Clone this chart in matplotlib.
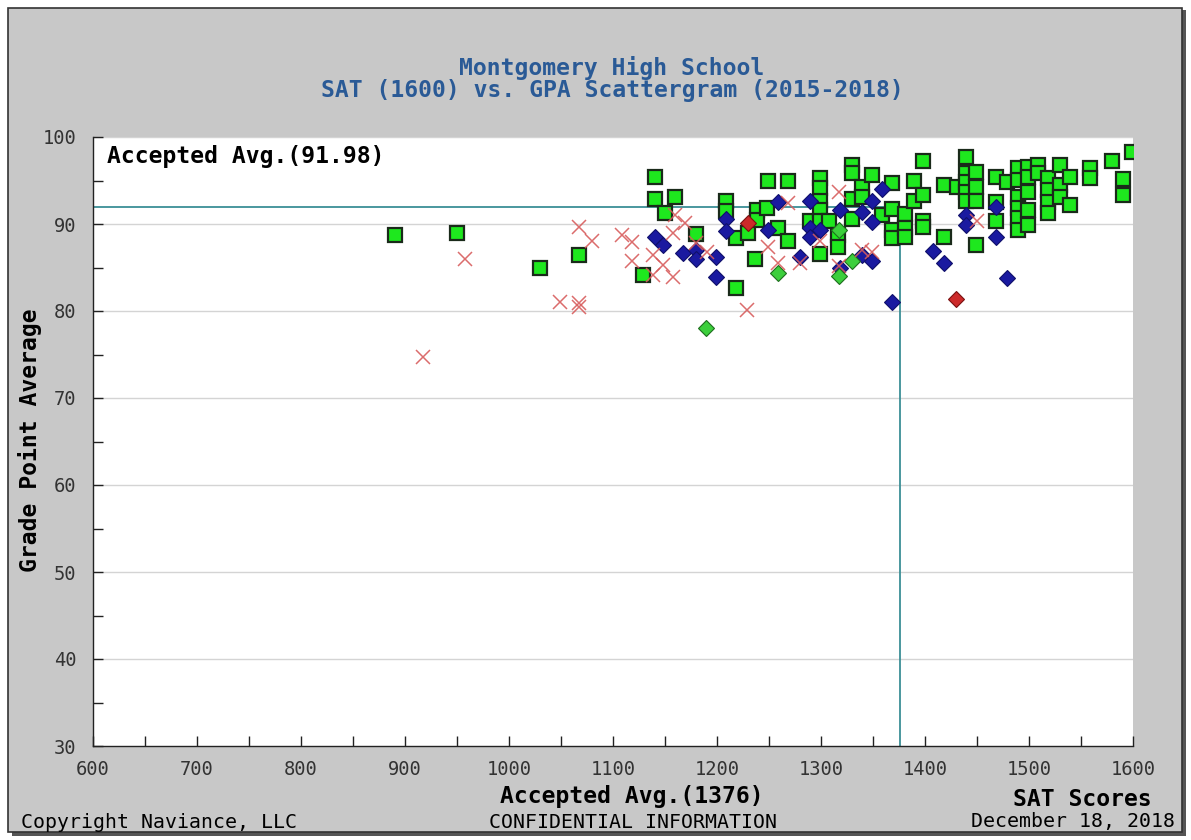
import numpy as np
import matplotlib
matplotlib.use("Agg")
import matplotlib.pyplot as plt
from matplotlib.patches import Rectangle
from matplotlib.ticker import MultipleLocator

# accepted (green squares)
acc_sat = [890, 950, 1030, 1067, 1129, 1140, 1140, 1150, 1160, 1180, 1209, 1209, 1218, 1218,
           1230, 1238, 1238, 1237, 1249, 1248, 1259, 1268, 1268, 1289, 1299, 1299, 1299, 1299,
           1299, 1299, 1308, 1316, 1316, 1330, 1330, 1330, 1330, 1339, 1339, 1349, 1359, 1368,
           1368, 1368, 1368, 1381, 1381, 1381, 1389, 1389, 1398, 1398, 1398, 1398, 1418, 1418,
           1431, 1439, 1439, 1439, 1439, 1439, 1449, 1449, 1449, 1449, 1468, 1468, 1468, 1479,
           1489, 1489, 1489, 1489, 1489, 1489, 1499, 1499, 1499, 1499, 1499, 1509, 1509, 1518,
           1518, 1518, 1518, 1530, 1530, 1530, 1539, 1539, 1559, 1559, 1580, 1590, 1590, 1599]
acc_gpa = [88.7, 89.0, 85.0, 86.4, 84.1, 95.4, 92.9, 91.3, 93.1, 88.8, 92.6, 91.5, 88.4, 82.7,
           89.0, 91.6, 90.5, 86.0, 94.9, 91.8, 89.5, 94.9, 88.1, 90.4, 95.3, 94.1, 92.6, 91.6,
           90.4, 86.6, 90.4, 88.7, 87.3, 96.8, 95.9, 92.9, 90.6, 94.2, 93.1, 95.6, 91.0, 94.7,
           91.7, 89.3, 88.4, 91.2, 89.5, 88.5, 94.9, 92.6, 97.2, 93.3, 90.4, 89.6, 94.5, 88.5,
           94.2, 97.7, 95.9, 94.8, 93.7, 92.7, 96.0, 94.2, 92.7, 87.6, 95.4, 92.5, 90.4, 94.8,
           96.4, 95.1, 93.1, 91.8, 90.7, 89.3, 96.5, 95.4, 93.7, 91.6, 89.9, 96.8, 95.9, 95.3,
           93.9, 92.5, 91.3, 96.8, 94.5, 93.1, 95.4, 92.2, 96.4, 95.3, 97.2, 95.2, 93.3, 98.3]

# blue diamonds
blue_sat = [1140, 1148, 1167, 1180, 1180, 1199, 1199, 1209, 1209, 1249, 1259, 1280, 1289, 1289,
            1289, 1299, 1318, 1318, 1339, 1339, 1349, 1349, 1349, 1359, 1368, 1408, 1418, 1439,
            1439, 1468, 1468, 1479]
blue_gpa = [88.5, 87.6, 86.7, 87.0, 86.0, 86.2, 83.9, 90.6, 89.2, 89.3, 92.5, 86.2, 92.7, 89.5,
            88.5, 89.3, 91.6, 84.9, 91.4, 86.4, 92.6, 90.2, 85.8, 94.0, 81.0, 86.9, 85.5, 91.0,
            89.9, 91.9, 88.5, 83.8]

# green diamonds
gdia_sat = [1189, 1259, 1317, 1330, 1317]
gdia_gpa = [78.1, 84.4, 84.0, 85.7, 89.3]

# red diamonds
rdia_sat = [1230, 1430]
rdia_gpa = [90.1, 81.4]

# denied (red x)
den_sat = [917, 958, 1049, 1067, 1067, 1067, 1080, 1109, 1118, 1118, 1138, 1148, 1138, 1158,
           1158, 1160, 1169, 1180, 1190, 1229, 1249, 1259, 1268, 1280, 1299, 1317, 1339, 1349,
           1450, 1317]
den_gpa = [74.7, 86.0, 81.0, 89.6, 80.9, 80.5, 88.0, 88.7, 87.9, 85.8, 86.4, 85.3, 84.1, 83.9,
           89.0, 91.0, 90.1, 87.8, 86.8, 80.1, 87.3, 85.5, 92.4, 85.5, 88.1, 93.7, 87.0, 86.8,
           90.4, 85.2]

avg_sat = 1376
avg_gpa = 91.98

W, H = 1191, 840
fig = plt.figure(figsize=(W / 100, H / 100), dpi=100, facecolor="white")

# gray panel with frame and shadow
fig.patches.append(Rectangle((12 / W, 1 - 836 / H), 1174 / W, 826 / H, transform=fig.transFigure,
                             facecolor="#555555", edgecolor="none", zorder=0))
fig.patches.append(Rectangle((8 / W, 1 - 832 / H), 1174 / W, 824 / H, transform=fig.transFigure,
                             facecolor="#c8c8c8", edgecolor="#333333", linewidth=1.2, zorder=0.5))

ax = fig.add_axes([93 / W, 1 - 746 / H, 1040 / W, 609 / H])
ax.set_zorder(2)
ax.set_facecolor("white")
ax.set_xlim(600, 1600)
ax.set_ylim(30, 100)

for g in range(40, 101, 10):
    ax.axhline(g, color="#d4d4d4", linewidth=1, zorder=1)

ax.plot([600, avg_sat], [avg_gpa, avg_gpa], color="#3b8f96", linewidth=1.3, zorder=2)
ax.plot([avg_sat, avg_sat], [30, avg_gpa], color="#3b8f96", linewidth=1.3, zorder=2)

ax.plot(acc_sat, acc_gpa, ls="none", marker="s", markersize=10, markerfacecolor="#1ee81e",
        markeredgecolor="#1a2a1a", markeredgewidth=1.6, zorder=3)
ax.plot(blue_sat, blue_gpa, ls="none", marker="D", markersize=8.3, markerfacecolor="#1a1aa0",
        markeredgecolor="#10106a", markeredgewidth=0.8, zorder=4)
ax.plot(gdia_sat, gdia_gpa, ls="none", marker="D", markersize=8.3, markerfacecolor="#3ccf3c",
        markeredgecolor="#1e6e1e", markeredgewidth=0.8, zorder=4)
ax.plot(rdia_sat, rdia_gpa, ls="none", marker="D", markersize=8.3, markerfacecolor="#cc2a2a",
        markeredgecolor="#7a1010", markeredgewidth=0.8, zorder=4)
ax.plot(den_sat, den_gpa, ls="none", marker="x", markersize=10.5, markeredgecolor="#d85c5c",
        markeredgewidth=1.1, alpha=0.9, zorder=5)

ax.xaxis.set_major_locator(MultipleLocator(100))
ax.xaxis.set_minor_locator(MultipleLocator(50))
ax.yaxis.set_major_locator(MultipleLocator(10))
ax.yaxis.set_minor_locator(MultipleLocator(5))
ax.tick_params(which="both", direction="in", length=7, width=1, color="#222222")
ax.tick_params(axis="x", which="major", pad=10)
ax.tick_params(axis="y", which="major", pad=12)
for lab in ax.get_xticklabels() + ax.get_yticklabels():
    lab.set_fontfamily("DejaVu Sans Mono")
    lab.set_fontsize(13.5)
    lab.set_color("#333333")

for s in ["top", "right"]:
    ax.spines[s].set_visible(False)
for s in ["left", "bottom"]:
    ax.spines[s].set_color("#222222")
    ax.spines[s].set_linewidth(1)

mono = "DejaVu Sans Mono"
big = 16.6
small = 14.3

fig.text(107 / W, 1 - 157 / H, "Accepted Avg.(91.98)", family=mono, fontweight="bold",
         fontsize=big, ha="left", va="center", color="black", zorder=5)
fig.text(612 / W, 1 - 68 / H, "Montgomery High School", family=mono, fontweight="bold",
         fontsize=big, ha="center", va="center", color="#2a5a96")
fig.text(612 / W, 1 - 91 / H, "SAT (1600) vs. GPA Scattergram (2015-2018)", family=mono,
         fontweight="bold", fontsize=big, ha="center", va="center", color="#2a5a96")
fig.text(30 / W, 1 - 440 / H, "Grade Point Average", family=mono, fontweight="bold",
         fontsize=big, ha="center", va="center", rotation=90, color="black")
fig.text(632 / W, 1 - 797 / H, "Accepted Avg.(1376)", family=mono, fontweight="bold",
         fontsize=big, ha="center", va="center", color="black")
fig.text(1082 / W, 1 - 800 / H, "SAT Scores", family=mono, fontweight="bold",
         fontsize=big, ha="center", va="center", color="black")
fig.text(21 / W, 1 - 822 / H, "Copyright Naviance, LLC", family=mono, fontsize=small,
         ha="left", va="center", color="black")
fig.text(633 / W, 1 - 822 / H, "CONFIDENTIAL INFORMATION", family=mono, fontsize=small,
         ha="center", va="center", color="black")
fig.text(1175 / W, 1 - 822 / H, "December 18, 2018", family=mono, fontsize=small,
         ha="right", va="center", color="black")

fig.savefig("out.png", dpi=100, facecolor="white")
